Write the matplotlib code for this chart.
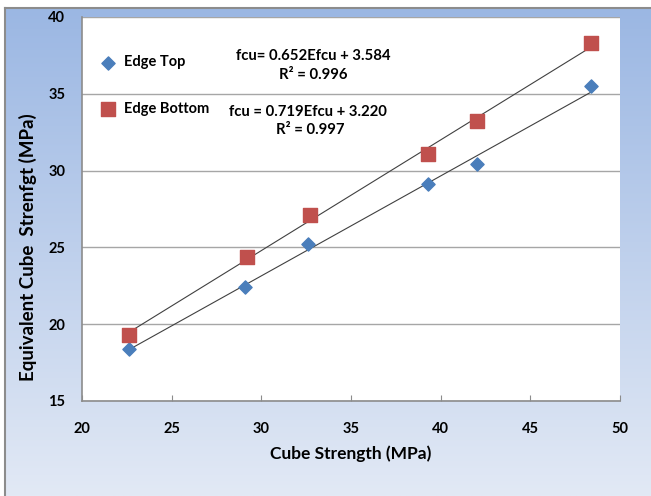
import numpy as np
import matplotlib
matplotlib.use("Agg")
import matplotlib.pyplot as plt

plt.rcParams['font.family'] = ['Lato', 'DejaVu Sans']
plt.rcParams['font.weight'] = 'bold'

# 数据
cube_top = [22.6, 29.1, 32.6, 39.3, 42.0, 48.4]
equiv_top = [18.4, 22.4, 25.2, 29.1, 30.4, 35.5]
cube_bot = [22.6, 29.2, 32.7, 39.3, 42.0, 48.4]
equiv_bot = [19.3, 24.4, 27.1, 31.1, 33.2, 38.3]
eq_top = ["fcu= 0.652Efcu + 3.584", "R² = 0.996"]
eq_bot = ["fcu = 0.719Efcu + 3.220", "R² = 0.997"]

fig = plt.figure(figsize=(6.51, 4.96), dpi=100)

# 渐变背景
bg = fig.add_axes([5 / 651, 0, 1 - 5 / 651, (496 - 8) / 496], zorder=-5)
grad = np.linspace(0, 1, 256).reshape(-1, 1)
top_c = np.array([0x9b, 0xb7, 0xe3]) / 255
bot_c = np.array([0xe2, 0xe9, 0xf5]) / 255
img = top_c * (1 - grad[..., None]) + bot_c * grad[..., None]
img = np.repeat(img, 2, axis=1)
bg.imshow(img, aspect='auto', extent=[0, 1, 0, 1])
bg.set_xlim(0, 1)
bg.set_ylim(0, 1)
bg.axis('off')
bg.plot([0, 0], [0, 1], color='#8c8c8c', lw=1.5, clip_on=False)
bg.plot([0, 1], [1, 1], color='#8c8c8c', lw=1.5, clip_on=False)

ax = fig.add_axes([82 / 651, 1 - 401 / 496, (620 - 82) / 651, (401 - 17) / 496])
ax.set_facecolor('white')

ax.scatter(cube_top, equiv_top, marker='D', s=45, color='#4a7ebb', zorder=3, label='Edge Top')
ax.scatter(cube_bot, equiv_bot, marker='s', s=90, color='#c0504d', zorder=3, label='Edge Bottom')

# 趋势线
for xs, ys in [(cube_top, equiv_top), (cube_bot, equiv_bot)]:
    k, b = np.polyfit(xs, ys, 1)
    xx = np.array([min(xs), max(xs)])
    ax.plot(xx, k * xx + b, color='#404040', lw=0.8, zorder=2)

ax.set_xlim(20, 50)
ax.set_ylim(15, 40)
ax.set_xticks(np.arange(20, 51, 5))
ax.set_yticks(np.arange(15, 41, 5))
ax.yaxis.grid(True, color='#a6a6a6', lw=1)
ax.set_axisbelow(True)
for s in ['top', 'right']:
    ax.spines[s].set_visible(False)
for s in ['left', 'bottom']:
    ax.spines[s].set_color('#8c8c8c')
    ax.spines[s].set_linewidth(1.2)
ax.tick_params(axis='x', direction='in', length=4, color='#8c8c8c', pad=15, labelsize=10.5)
ax.tick_params(axis='y', length=0, pad=12, labelsize=10.5)

ax.set_xlabel("Cube Strength (MPa)", fontsize=12.5, fontweight='bold', labelpad=7)
ax.set_ylabel("Equivalent Cube  Strenfgt (MPa)", fontsize=13.5, fontweight='bold')
ax.yaxis.set_label_coords(-0.083, 0.40)

ax.text(32.9, 37.46, eq_top[0], ha='center', va='center', fontsize=10.7)
ax.text(32.9, 36.22, eq_top[1], ha='center', va='center', fontsize=10.7)
ax.text(32.6, 33.81, eq_bot[0], ha='center', va='center', fontsize=10.7)
ax.text(32.7, 32.64, eq_bot[1], ha='center', va='center', fontsize=10.7)

ax.legend(loc='upper left', bbox_to_anchor=(0.01, 0.915), frameon=False, fontsize=10.5,
          labelspacing=2.25, handletextpad=0.1, borderaxespad=0, scatterpoints=1)

fig.savefig("out.png", dpi=100)
